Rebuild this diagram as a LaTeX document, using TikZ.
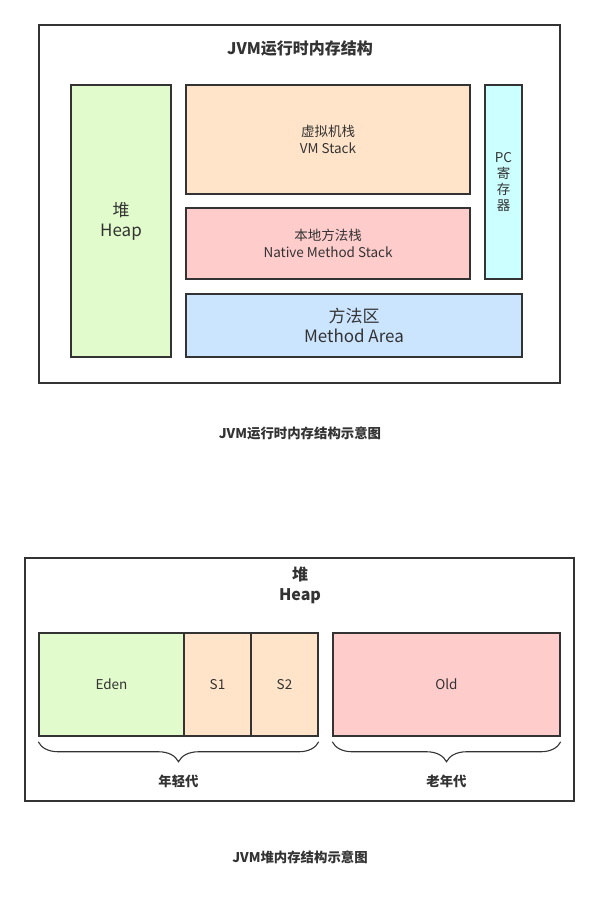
\documentclass[tikz,border=0pt]{standalone}
\usepackage{fontspec}
\setmainfont{Noto Sans CJK SC}
\usetikzlibrary{decorations.pathreplacing}
\definecolor{ink}{RGB}{51,51,51}
\definecolor{leaf}{RGB}{226,251,204}
\definecolor{peach}{RGB}{255,228,201}
\definecolor{rose}{RGB}{255,204,204}
\definecolor{ice}{RGB}{204,255,255}
\definecolor{sky}{RGB}{204,229,255}
\tikzset{
  frame/.style={draw=ink,line width=1.3pt,fill=white,inner sep=0pt},
  area/.style={draw=ink,line width=1.5pt,fill=#1,inner sep=0pt,align=center,
    text=ink,font=\fontsize{13.5}{17}\selectfont},
  area/.default=leaf,
  big/.style={font=\fontsize{17}{20}\selectfont},
  head/.style={font=\bfseries\fontsize{16}{20}\selectfont,text=ink,align=center},
  caption/.style={font=\bfseries\fontsize{13.4}{15}\selectfont,text=ink},
  brace/.style={decorate,decoration={brace,mirror,amplitude=20pt},draw=ink,line width=1.1pt},
}
\begin{document}
\begin{tikzpicture}[x=1pt,y=-1pt]
  \useasboundingbox[fill=white] (0,0) rectangle (599,901);
  % runtime memory areas
  \node[frame,minimum width=521,minimum height=358] (frame1) at (299.5,204) {};
  \node[head] (title1) at (300,49) {JVM运行时内存结构};
  \node[area=leaf,big,minimum width=100,minimum height=272] (heap) at (121,221) {堆\\Heap};
  \node[area=peach,minimum width=284,minimum height=109] (vmstack) at (328,139.5) {虚拟机栈\\VM Stack};
  \node[area=rose,minimum width=284,minimum height=71] (native) at (328,243.5) {本地方法栈\\Native Method Stack};
  \node[area=ice,minimum width=37,minimum height=194,font=\fontsize{13.5}{16}\selectfont] (pc) at (503.5,182) {PC\\寄\\存\\器};
  \node[area=sky,big,minimum width=336,minimum height=63] (method) at (354,325.5) {方法区\\Method Area};
  \node[caption] (cap1) at (300,433) {JVM运行时内存结构示意图};
  % heap layout
  \node[frame,minimum width=549,minimum height=243] (frame2) at (299.5,679.5) {};
  \node[head] (title2) at (300,585) {堆\\Heap};
  \node[area=leaf,minimum width=145,minimum height=103] (eden) at (111.5,684.5) {Eden};
  \node[area=peach,minimum width=67,minimum height=103] (s1) at (217.5,684.5) {S1};
  \node[area=peach,minimum width=67,minimum height=103] (s2) at (284.5,684.5) {S2};
  \node[area=rose,minimum width=227,minimum height=103] (old) at (446.5,684.5) {Old};
  \draw[brace] ([yshift=-5]eden.south west) -- ([yshift=-5]s2.south east)
    node[caption,midway,below=29pt] (young) {年轻代};
  \draw[brace] ([yshift=-5]old.south west) -- ([yshift=-5]old.south east)
    node[caption,midway,below=29pt] (tenured) {老年代};
  \node[caption] (cap2) at (300,857) {JVM堆内存结构示意图};
\end{tikzpicture}
\end{document}
